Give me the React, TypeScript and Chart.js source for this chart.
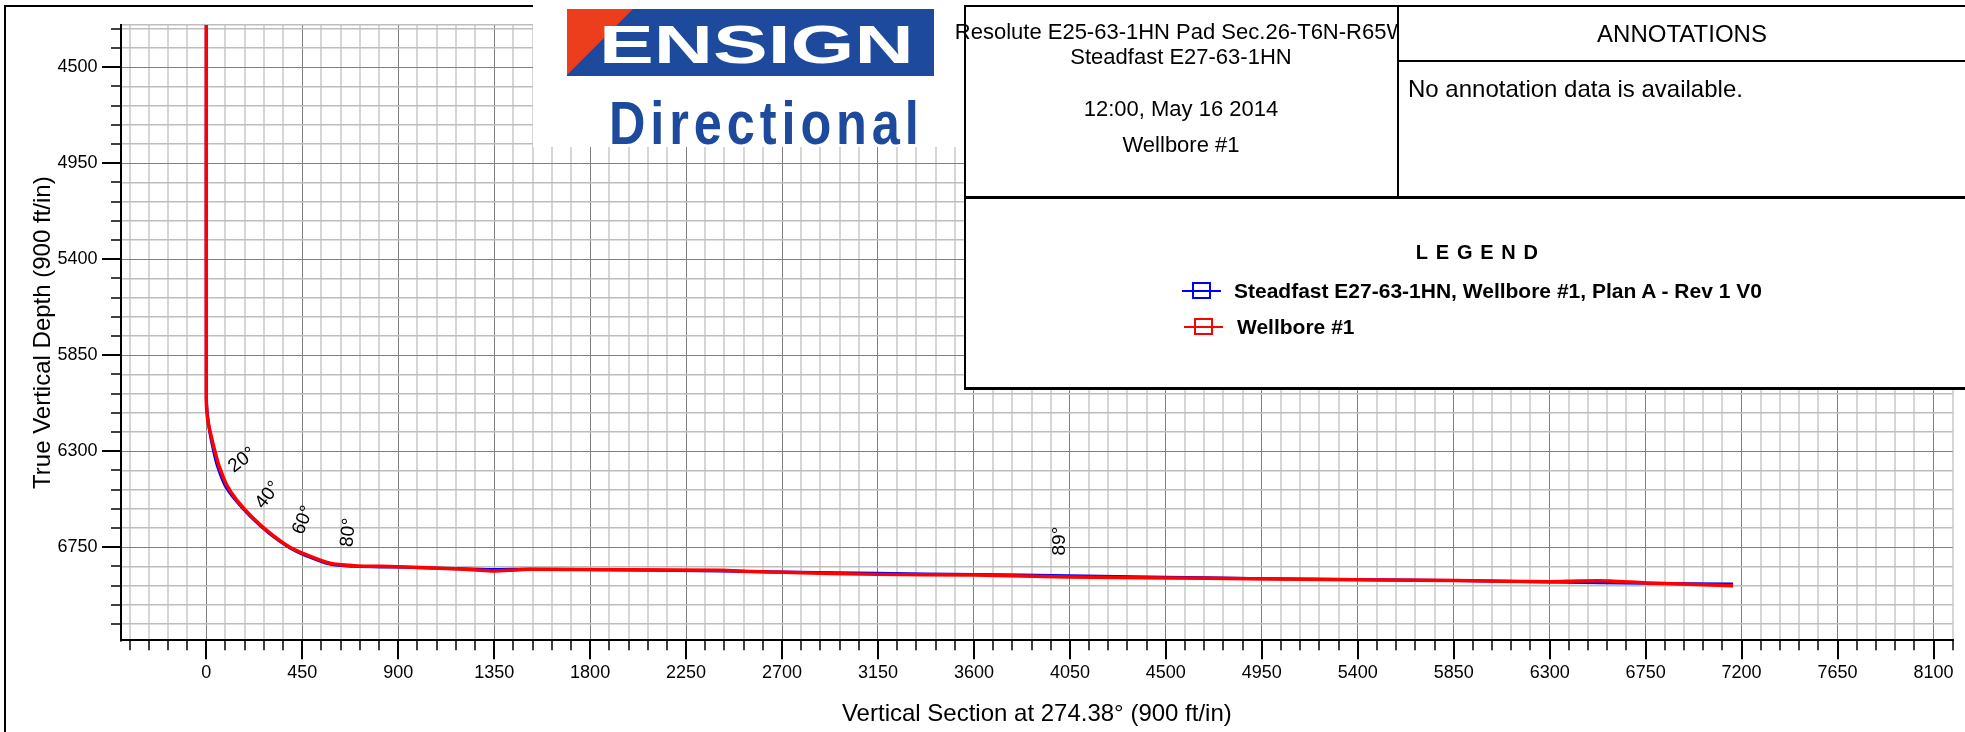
import React, { useEffect, useRef } from 'react';
import { Chart, registerables } from 'chart.js';

Chart.register(...registerables);

const FONT = "'Liberation Sans', Arial, Helvetica, sans-serif";

// ---- axis ranges / ticks ----
const xAxisMin = -400;
const xAxisMax = 8190;
const yAxisMin = 4302;
const yAxisMax = 7186;
const minorStep = 90;
const xMajorTicks = [0, 450, 900, 1350, 1800, 2250, 2700, 3150, 3600, 4050, 4500, 4950, 5400, 5850, 6300, 6750, 7200, 7650, 8100];
const yMajorTicks = [4500, 4950, 5400, 5850, 6300, 6750];

// ---- Plan: Steadfast E27-63-1HN, Wellbore #1, Plan A - Rev 1 V0 (blue) ----
const planVS = [0, 0, 3, 8, 17, 35, 53, 87, 136, 208, 296, 390, 468, 578, 690, 892, 1127, 1350, 1517, 1986, 2410, 3143, 3603, 4043, 4499, 4892, 5856, 6305, 6753, 7160];
const planTVD = [4200, 6040, 6100, 6150, 6216, 6302, 6372, 6458, 6528, 6607, 6686, 6752, 6790, 6829, 6839, 6843, 6849, 6854, 6853, 6856, 6861, 6872, 6878, 6883, 6890, 6896, 6906, 6913, 6919, 6922];

// ---- Actual: Wellbore #1 (red) ----
const actualVS = [0, 0, 3, 8, 20, 41, 61, 96, 142, 213, 299, 392, 471, 580, 689, 892, 1127, 1250, 1350, 1450, 1517, 1986, 2410, 2557, 2703, 3143, 3603, 4043, 4499, 4892, 5126, 5856, 6305, 6434, 6583, 6753, 7160];
const actualTVD = [4200, 6060, 6120, 6160, 6216, 6302, 6372, 6458, 6528, 6607, 6684, 6750, 6786, 6825, 6836, 6841, 6849, 6855, 6861, 6856, 6853, 6855, 6858, 6864, 6867, 6877, 6880, 6889, 6894, 6897, 6900, 6906, 6911, 6908, 6908, 6917, 6930];

// ---- inclination annotations ----
const angleLabels = ['20°', '40°', '60°', '80°', '89°'];
const angleLabelVS = [168, 289, 455, 667, 4003];
const angleLabelTVD = [6342, 6506, 6623, 6681, 6721];
const angleLabelRotation = [-37, -52, -68, -84, -90];

// ---- texts ----
const xTitle = 'Vertical Section at 274.38° (900 ft/in)';
const yTitle = 'True Vertical Depth (900 ft/in)';
const titleLines = ['Resolute E25-63-1HN Pad Sec.26-T6N-R65W', 'Steadfast E27-63-1HN', '12:00, May 16 2014', 'Wellbore #1'];
const legendNames = ['Steadfast E27-63-1HN, Wellbore #1, Plan A - Rev 1 V0', 'Wellbore #1'];
const legendColors = ['#0000ff', '#ff0000'];
const annotationHeader = 'ANNOTATIONS';
const annotationText = 'No annotation data is available.';

const isMult = (v: number, s: number) => Math.abs(v / s - Math.round(v / s)) < 1e-6;
const isMajorX = (v: number) => xMajorTicks.some((m) => Math.abs(m - v) < 1e-6);
const isMajorY = (v: number) => yMajorTicks.some((m) => Math.abs(m - v) < 1e-6);

function minorTicks(min: number, max: number, step: number) {
  const out: number[] = [];
  for (let v = Math.ceil(min / step) * step; v <= max + 1e-9; v += step) out.push(v);
  return out;
}

const overlayPlugin = {
  id: 'wellOverlay',
  afterDraw(chart: any) {
    const { ctx, chartArea, scales } = chart;
    const xs = scales.x;
    const ys = scales.y;
    ctx.save();
    ctx.strokeStyle = '#000';
    xs.ticks.forEach((t: any) => {
      const v = t.value;
      if (!isMult(v, minorStep)) return;
      const major = isMajorX(v);
      const px = Math.round(xs.getPixelForValue(v));
      ctx.lineWidth = major ? 2 : 1.5;
      ctx.beginPath();
      ctx.moveTo(px, chartArea.bottom);
      ctx.lineTo(px, chartArea.bottom + (major ? 19 : 10));
      ctx.stroke();
    });
    ys.ticks.forEach((t: any) => {
      const v = t.value;
      if (!isMult(v, minorStep)) return;
      const major = isMajorY(v);
      const py = Math.round(ys.getPixelForValue(v));
      ctx.lineWidth = major ? 2 : 1.5;
      ctx.beginPath();
      ctx.moveTo(chartArea.left, py);
      ctx.lineTo(chartArea.left - (major ? 19 : 10), py);
      ctx.stroke();
    });
    // inclination labels
    ctx.fillStyle = '#000';
    ctx.font = `19px ${FONT}`;
    ctx.textAlign = 'center';
    ctx.textBaseline = 'middle';
    angleLabels.forEach((lab, i) => {
      const px = xs.getPixelForValue(angleLabelVS[i]);
      const py = ys.getPixelForValue(angleLabelTVD[i]);
      ctx.save();
      ctx.translate(px, py);
      ctx.rotate((angleLabelRotation[i] * Math.PI) / 180);
      ctx.fillText(lab, 0, 0);
      ctx.restore();
    });
    // y axis title (centred on the plot height)
    ctx.font = `24px ${FONT}`;
    ctx.save();
    ctx.translate(43, (chartArea.top + chartArea.bottom) / 2);
    ctx.rotate(-Math.PI / 2);
    ctx.fillText(yTitle, 0, 0);
    ctx.restore();
    ctx.restore();
  },
};

function WellChart() {
  const ref = useRef<HTMLCanvasElement | null>(null);
  useEffect(() => {
    if (!ref.current) return;
    const chart = new Chart(ref.current, {
      type: 'scatter',
      data: {
        datasets: [
          {
            label: legendNames[1],
            data: actualVS.map((v, i) => ({ x: v, y: actualTVD[i] })),
            showLine: true,
            borderColor: legendColors[1],
            borderWidth: 3.5,
            pointRadius: 0,
            tension: 0.3,
          },
          {
            label: legendNames[0],
            data: planVS.map((v, i) => ({ x: v, y: planTVD[i] })),
            showLine: true,
            borderColor: legendColors[0],
            borderWidth: 3,
            pointRadius: 0,
            tension: 0.3,
          },
        ],
      },
      options: {
        responsive: false,
        animation: false,
        devicePixelRatio: 1,
        layout: { padding: { left: 0, top: 25, right: 12.3, bottom: 0 } },
        plugins: { legend: { display: false }, tooltip: { enabled: false } },
        scales: {
          x: {
            type: 'linear',
            position: 'bottom',
            min: xAxisMin,
            max: xAxisMax,
            afterBuildTicks: (s: any) => {
              s.ticks = minorTicks(xAxisMin, xAxisMax, minorStep).map((v) => ({ value: v }));
            },
            afterFit: (s: any) => {
              s.height = 91.7;
              s.paddingLeft = 0;
              s.paddingRight = 0;
            },
            ticks: {
              autoSkip: false,
              maxRotation: 0,
              minRotation: 0,
              padding: 22,
              color: '#000',
              font: { size: 18, family: FONT },
              callback: (v: any) => (isMajorX(Number(v)) ? String(Math.round(Number(v))) : ''),
            },
            grid: {
              drawTicks: false,
              color: (c: any) => (c.tick && isMajorX(c.tick.value) ? '#7f7f7f' : '#d6d6d6'),
              lineWidth: (c: any) => (c.tick && isMajorX(c.tick.value) ? 1 : 2),
            },
            border: { display: true, color: '#000', width: 2 },
            title: {
              display: true,
              text: xTitle,
              color: '#000',
              font: { size: 24, family: FONT },
              padding: { top: 0, bottom: 3 },
            },
          },
          y: {
            type: 'linear',
            reverse: true,
            min: yAxisMin,
            max: yAxisMax,
            afterBuildTicks: (s: any) => {
              s.ticks = [yAxisMin, ...minorTicks(yAxisMin, yAxisMax, minorStep)].map((v) => ({ value: v }));
            },
            afterFit: (s: any) => {
              s.width = 121;
              s.paddingTop = 0;
              s.paddingBottom = 0;
            },
            ticks: {
              autoSkip: false,
              padding: 23.5,
              color: '#000',
              font: { size: 18, family: FONT },
              callback: (v: any) => (isMajorY(Number(v)) ? String(Math.round(Number(v))) : ''),
            },
            grid: {
              drawTicks: false,
              color: (c: any) => {
                if (!c.tick) return '#bdbdbd';
                return isMajorY(c.tick.value) ? '#7f7f7f' : '#bdbdbd';
              },
              lineWidth: (c: any) => (c.tick && isMajorY(c.tick.value) ? 1 : 1.5),
            },
            border: { display: true, color: '#000', width: 2 },
          },
        },
      },
      plugins: [overlayPlugin],
    } as any);
    return () => chart.destroy();
  }, []);
  return <canvas ref={ref} width={1965} height={732} style={{ position: 'absolute', left: 0, top: 0, display: 'block' }} />;
}

const Bar = ({ l, t, w, h, c = '#000' }: { l: number; t: number; w: number; h: number; c?: string }) => (
  <div style={{ position: 'absolute', left: l, top: t, width: w, height: h, background: c }} />
);

const Txt = ({ x, cy, size, bold, align = 'center', children, spacing = 0, color = '#000' }: any) => {
  const w = 900;
  const lh = size * 1.2;
  return (
    <div
      style={{
        position: 'absolute',
        left: align === 'center' ? x - w / 2 : x,
        top: cy - lh / 2,
        width: align === 'center' ? w : undefined,
        textAlign: align,
        fontSize: size,
        lineHeight: `${lh}px`,
        fontWeight: bold ? 'bold' : 'normal',
        whiteSpace: 'nowrap',
        letterSpacing: spacing,
        paddingLeft: spacing,
        color,
        fontFamily: FONT,
      }}
    >
      {children}
    </div>
  );
};

function Logo() {
  const blue = '#1d4a9c';
  return (
    <div style={{ position: 'absolute', left: 533, top: 0, width: 431, height: 147, background: '#fff', overflow: 'hidden' }}>
      <div style={{ position: 'absolute', left: 34, top: 9, width: 367, height: 67, background: blue }} />
      <div style={{ position: 'absolute', left: 34, top: 9, width: 66, height: 66, background: '#ec3d1c', clipPath: 'polygon(0 0, 100% 0, 0 100%)' }} />
      <div
        style={{
          position: 'absolute',
          left: 66,
          top: 16.6,
          fontSize: 54,
          lineHeight: '54px',
          fontWeight: 'bold',
          color: '#fff',
          fontFamily: FONT,
          whiteSpace: 'nowrap',
          transform: 'scaleX(1.52)',
          transformOrigin: 'left top',
        }}
      >
        ENSIGN
      </div>
      <div
        style={{
          position: 'absolute',
          left: 76,
          top: 92,
          fontSize: 61.5,
          lineHeight: '61.5px',
          fontWeight: 'bold',
          color: blue,
          fontFamily: FONT,
          whiteSpace: 'nowrap',
          letterSpacing: 6,
          transform: 'scaleX(0.82)',
          transformOrigin: 'left top',
        }}
      >
        Directional
      </div>
    </div>
  );
}

function InfoBlock() {
  return (
    <>
      <Bar l={964} t={5} w={1001} h={384} c="#fff" />
      <Bar l={964} t={5} w={1001} h={2} />
      <Bar l={964} t={5} w={2} h={384} />
      <Bar l={1397} t={5} w={2} h={192} />
      <Bar l={1398} t={60} w={567} h={2} />
      <Bar l={964} t={196} w={1001} h={3} />
      <Bar l={964} t={387} w={1001} h={2.5} />
      {/* title lines */}
      <div style={{ position: 'absolute', left: 900, top: 0, width: 497, height: 60, overflow: 'hidden' }}>
        <Txt x={1181 - 900} cy={32.5} size={22}>
          {titleLines[0]}
        </Txt>
      </div>
      <Txt x={1181} cy={57} size={22}>
        {titleLines[1]}
      </Txt>
      <Txt x={1181} cy={109} size={22}>
        {titleLines[2]}
      </Txt>
      <Txt x={1181} cy={145} size={22}>
        {titleLines[3]}
      </Txt>
      {/* annotations */}
      <Txt x={1682} cy={34.5} size={24}>
        {annotationHeader}
      </Txt>
      <Txt x={1408} cy={89} size={24} align="left">
        {annotationText}
      </Txt>
      {/* legend */}
      <Txt x={1473} cy={252} size={20} bold spacing={7.8}>
        LEGEND
      </Txt>
      {legendNames.map((name, i) => {
        const cy = i === 0 ? 290.5 : 326.5;
        const mx = i === 0 ? 1182 : 1184;
        return (
          <React.Fragment key={name}>
            <Bar l={mx} t={cy - 1} w={39} h={2} c={legendColors[i]} />
            <div
              style={{
                position: 'absolute',
                left: mx + 9.5,
                top: cy - 8.5,
                width: 19,
                height: 17,
                boxSizing: 'border-box',
                border: `2px solid ${legendColors[i]}`,
              }}
            />
            <Txt x={i === 0 ? 1234 : 1237} cy={cy} size={21} bold align="left">
              {name}
            </Txt>
          </React.Fragment>
        );
      })}
    </>
  );
}

export default function App() {
  return (
    <div style={{ position: 'absolute', left: 0, top: 0, width: 1965, height: 732, overflow: 'hidden', background: '#fff', fontFamily: FONT }}>
      <WellChart />
      <Bar l={4} t={5} w={2} h={727} />
      <Bar l={4} t={5} w={529} h={2} />
      <Logo />
      <InfoBlock />
    </div>
  );
}
